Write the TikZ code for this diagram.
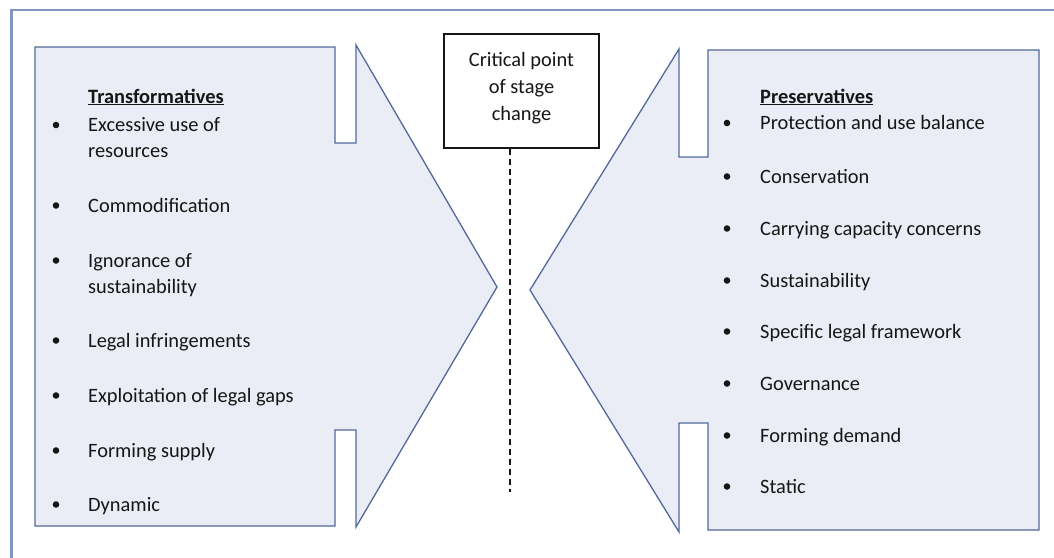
\documentclass[tikz,border=0pt]{standalone}
\usepackage{fontspec}
\setmainfont{Carlito}
\definecolor{shapefill}{RGB}{234,237,246}
\definecolor{shapeline}{RGB}{82,106,154}
\definecolor{framecol}{RGB}{130,148,196}
\definecolor{ink}{RGB}{22,22,22}
\begin{document}
\begin{tikzpicture}[x=1pt,y=-1pt,
  arrowshape/.style={fill=shapefill,draw=shapeline,line width=1.3pt,line join=miter},
  txt/.style={anchor=base west,inner sep=0pt,text=ink,font=\fontsize{20.4}{24}\selectfont},
  ctxt/.style={anchor=base,inner sep=0pt,text=ink,font=\fontsize{20.4}{24}\selectfont},
  dot/.style={circle,fill=ink,inner sep=0pt,minimum size=6.6pt},
  critbox/.style={draw=ink,line width=1.3pt,fill=white,minimum width=155pt,minimum height=114pt,inner sep=0pt},
  dashline/.style={draw=ink,line width=1.5pt,dash pattern=on 6pt off 4pt}]
\useasboundingbox (0,0) rectangle (1054,557);
\fill[white] (0,0) rectangle (1054,557);

% outer frame (only left and top edges are within the page)
\draw[framecol,line width=2.2pt] (11.5,560) -- (11.5,10) -- (1060,10);

% left arrow with notches
\draw[arrowshape] (35,47) -- (335,47) -- (335,143) -- (356,143) -- (356,45)
  -- (497,287) -- (356,527) -- (356,430) -- (335,430) -- (335,526) -- (35,526) -- cycle;

% right arrow with notches
\draw[arrowshape] (1039,50) -- (708,50) -- (708,157) -- (679,157) -- (679,49)
  -- (530,290) -- (679,532) -- (679,423) -- (708,423) -- (708,530) -- (1039,530) -- cycle;

% central marker
\node[critbox] (crit) at (521.5,91) {};
\node[ctxt] (c1) at (521.5,66) {Critical point};
\node[ctxt] (c2) at (521.5,93) {of stage};
\node[ctxt] (c3) at (521.5,120) {change};
\coordinate (dashend) at (510,492);
\draw[dashline] (crit.south -| dashend) -- (dashend);

% left list
\node[txt] (lh) at (88,103) {\underline{\textbf{Transformatives}}};
\foreach \y/\t [count=\i] in {131.5/Excessive use of, 212/Commodification,
    267/Ignorance of, 347/Legal infringements, 402/Exploitation of legal gaps,
    457/Forming supply, 511/Dynamic}{
  \node[dot] (lb\i) at (56,\y-6.5) {};
  \node[txt] (lt\i) at (88,\y) {\t};
}
\node[txt] (lt1b) at (88,157) {resources};
\node[txt] (lt3b) at (88,293) {sustainability};

% right list
\node[txt] (rh) at (760,103) {\underline{\textbf{Preservatives}}};
\foreach \y/\t [count=\i] in {129.5/Protection and use balance, 183/Conservation,
    235/Carrying capacity concerns, 287/Sustainability, 338/Specific legal framework,
    390/Governance, 442/Forming demand, 493/Static}{
  \node[dot] (rb\i) at (727,\y-6.5) {};
  \node[txt] (rt\i) at (760,\y) {\t};
}
\end{tikzpicture}
\end{document}
